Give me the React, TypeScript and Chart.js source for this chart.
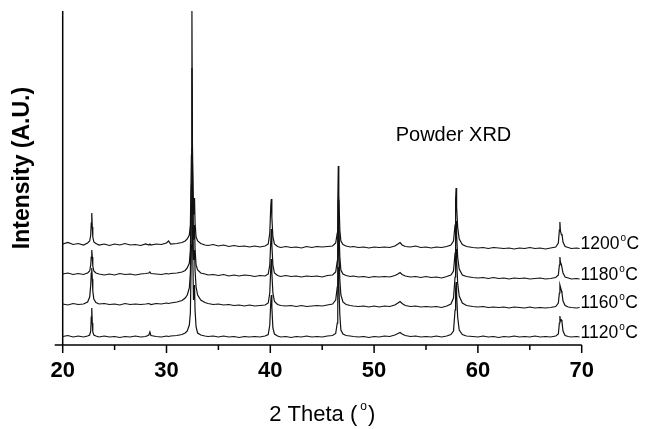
import React, { useEffect, useRef } from "react";
import { Chart, registerables } from "chart.js";

Chart.register(...registerables);

// 2-theta sampling positions (degrees)
const twoTheta = [
  20.0, 20.5, 21.0, 21.5, 22.0, 22.4, 22.6, 22.7, 22.75, 22.8,
  22.85, 22.9, 23.0, 23.2, 23.5, 24.0, 24.5, 25.0, 25.5, 26.0,
  26.5, 27.0, 27.5, 28.0, 28.3, 28.4, 28.5, 29.0, 29.5, 30.0,
  30.2, 30.4, 31.0, 31.5, 31.8, 32.0, 32.2, 32.3, 32.4, 32.45,
  32.5, 32.6, 32.7, 32.75, 32.85, 33.0, 33.3, 33.7, 34.0, 34.5,
  35.0, 35.5, 36.0, 36.5, 37.0, 37.5, 38.0, 38.5, 39.0, 39.5,
  39.8, 39.95, 40.05, 40.1, 40.15, 40.25, 40.4, 40.7, 41.0, 41.5,
  42.0, 42.5, 43.0, 43.5, 44.0, 44.5, 45.0, 45.5, 46.0, 46.3,
  46.45, 46.5, 46.55, 46.6, 46.7, 46.8, 47.0, 47.3, 47.7, 48.0,
  48.5, 49.0, 49.5, 50.0, 50.5, 51.0, 51.5, 52.0, 52.3, 52.5,
  52.7, 53.0, 53.5, 54.0, 54.5, 55.0, 55.5, 56.0, 56.5, 57.0,
  57.4, 57.65, 57.8, 57.85, 57.9, 57.95, 58.05, 58.2, 58.5, 58.9,
  59.5, 60.0, 60.5, 61.0, 61.5, 62.0, 62.5, 63.0, 63.5, 64.0,
  64.5, 65.0, 65.5, 66.0, 66.5, 67.0, 67.5, 67.75, 67.85, 67.9,
  67.95, 68.05, 68.1, 68.2, 68.4, 68.7, 69.0, 69.5, 69.8,
];

// Intensities (A.U., vertically offset for display)
const i1200 = [
  101, 102.5, 100.5, 101.5, 100, 102, 104, 110, 122, 132,
  118, 108, 103, 101.5, 100, 101, 99.5, 101, 100, 101.5,
  100, 100.5, 99.5, 101, 100, 101, 100, 101, 100.5, 102,
  104, 101, 101.5, 102.5, 104, 106, 110, 120, 190, 334,
  200, 130, 147, 122, 108, 104, 101.5, 100, 99.5, 100.5,
  99, 100, 98.5, 99.5, 98.5, 99, 98, 99, 98, 99,
  101, 112, 140, 146, 128, 108, 101, 98.5, 97.5, 98.5,
  97.5, 98, 97, 98.5, 97.5, 98.5, 98, 98.5, 99, 102,
  112, 140, 179, 150, 115, 104, 100.5, 99, 98, 98.5,
  97.5, 98, 97, 98, 97.5, 98, 97.5, 99, 101, 102.5,
  100, 98.5, 98, 99, 97.5, 98, 97, 98, 97.5, 98.5,
  100, 104, 120, 145, 157, 138, 118, 106, 100.5, 98.5,
  97.5, 97, 97.5, 96.5, 97.5, 97, 96.5, 97, 96, 97,
  96.5, 97.5, 96.5, 97, 96, 97, 98, 102, 115, 123,
  114, 110, 111, 103, 98.5, 97.5, 96.5, 97, 96.5,
];

const i1180 = [
  71, 72, 70.5, 71.5, 70.5, 72, 74, 80, 88, 95,
  88, 79, 74, 72, 71, 70, 71, 70, 71.5, 70.5,
  71, 70, 71, 71.5, 72, 73, 71.5, 71, 70.5, 71.5,
  71, 71.5, 72, 73, 74.5, 77, 82, 95, 160, 277,
  180, 105, 120, 96, 80, 75, 72, 71, 70, 70.5,
  69.5, 70.5, 69, 70, 69, 70, 69.5, 68.5, 69.5, 69,
  71, 80, 105, 116, 100, 80, 72, 69.5, 68.5, 69.5,
  68.5, 69, 68, 69, 68.5, 69, 68, 69.5, 70, 73,
  84, 110, 145, 120, 88, 75, 71, 69.5, 68.5, 69,
  68, 68.5, 67.5, 68.5, 68, 68.5, 68, 69.5, 71, 72.5,
  70.5, 69, 68, 68.5, 67.5, 68.5, 67.5, 68, 67, 68.5,
  70, 74, 92, 118, 124, 110, 88, 76, 70, 68.5,
  67.5, 67, 67.5, 66.5, 67.5, 66.5, 67, 66, 67, 66.5,
  67, 66, 66.5, 67, 66, 66.5, 67.5, 70, 80, 88,
  83, 80, 80, 72, 68, 67, 66, 66.5, 66,
];

const i1160 = [
  41, 40, 41.5, 40.5, 41, 43, 48, 60, 72, 77,
  66, 54, 46, 42.5, 41, 41.5, 40.5, 41, 40, 41.5,
  40.5, 41, 40.5, 41, 41.5, 41, 40.5, 41.5, 41, 42,
  41.5, 42, 43, 44.5, 47, 50, 57, 72, 140, 197,
  150, 85, 95, 75, 58, 50, 45, 42.5, 41.5, 40.5,
  41, 40, 40.5, 39.5, 40, 39, 40, 39, 39.5, 40,
  42, 52, 78, 86, 72, 52, 43.5, 40.5, 39.5, 39,
  39.5, 38.5, 39.5, 38.5, 39, 39.5, 39, 40, 41, 45,
  58, 85, 118, 98, 65, 50, 43, 40.5, 39.5, 39,
  38.5, 39, 38, 39, 38, 39, 38.5, 40, 42, 43.5,
  41.5, 39.5, 38.5, 39, 38, 38.5, 38, 38.5, 37.5, 39,
  41, 47, 68, 88, 96, 84, 62, 49, 42, 39.5,
  38.5, 38, 38.5, 37.5, 38, 37.5, 38, 37, 38, 37.5,
  37, 38, 37, 37.5, 37, 37.5, 38.5, 42, 52, 60,
  58, 54, 52, 44, 39.5, 38, 37.5, 37, 37.5,
];

const i1120 = [
  8.5, 9.5, 8, 9, 8, 9, 10, 14, 28, 37,
  22, 13, 10, 9, 8, 9, 8, 8.5, 7.5, 8.5,
  8, 9, 8, 8.5, 10, 13, 9.5, 8.5, 8, 9,
  8.5, 9, 9.5, 10.5, 12, 14, 20, 32, 100, 147,
  110, 45, 60, 35, 18, 12, 10, 9, 8.5, 9,
  8, 9, 8, 8.5, 7.5, 8.5, 8, 8.5, 8, 9,
  10.5, 20, 44, 50, 38, 17, 11, 9, 8, 8.5,
  7.5, 8.5, 8, 9, 8, 8.5, 8, 9, 9.5, 11.5,
  22, 50, 78, 60, 30, 15, 11, 9.5, 9, 8.5,
  8, 8.5, 7.5, 8.5, 8, 9, 8.5, 10, 11.5, 12.5,
  11, 9.5, 8.5, 9, 8, 8.5, 8, 9, 8, 9,
  10.5, 14, 35, 55, 63, 50, 28, 15, 10.5, 9,
  8.5, 8, 9, 8, 8.5, 7.5, 8.5, 8, 9, 8,
  8.5, 8, 9, 8, 8.5, 8, 9, 11, 22, 29,
  24, 25, 23, 14, 9.5, 8.5, 8, 8.5, 8,
];

const seriesNames = ["1200", "1180", "1160", "1120"];
const seriesValues = [i1200, i1180, i1160, i1120];

const xMajorTicks = [20, 30, 40, 50, 60, 70];
const xMinorTicks = [25, 35, 45, 55, 65];
const xMin = 20;
const xMax = 70;
const yMin = 0;
const yMax = 334;

const annotationText = "Powder XRD";
const annotationAt = { x: 57.65, y: 210 };
const xTitle = "2 Theta (";
const yTitle = "Intensity (A.U.)";

const FONT = '"Liberation Sans", Arial, Helvetica, sans-serif';

const decorPlugin = {
  id: "decor",
  afterDraw(chart: any) {
    const ctx: CanvasRenderingContext2D = chart.ctx;
    const xs = chart.scales.x;
    const ys = chart.scales.y;
    const area = chart.chartArea;
    ctx.save();
    ctx.strokeStyle = "#000";
    ctx.fillStyle = "#000";
    ctx.lineWidth = 1.5;

    const x0 = xs.getPixelForValue(xMin);
    const x1 = xs.getPixelForValue(xMax);
    const yb = area.bottom;

    // y axis line
    ctx.beginPath();
    ctx.moveTo(x0, area.top);
    ctx.lineTo(x0, yb);
    ctx.stroke();

    // x axis line (extends a little left of the y axis)
    ctx.beginPath();
    ctx.moveTo(x0 - 8, yb);
    ctx.lineTo(x1, yb);
    ctx.stroke();

    // ticks
    xMajorTicks.forEach((t) => {
      const p = xs.getPixelForValue(t);
      ctx.beginPath();
      ctx.moveTo(p, yb);
      ctx.lineTo(p, yb + 8);
      ctx.stroke();
    });
    xMinorTicks.forEach((t) => {
      const p = xs.getPixelForValue(t);
      ctx.beginPath();
      ctx.moveTo(p, yb);
      ctx.lineTo(p, yb + 5);
      ctx.stroke();
    });

    // series labels at the end of each curve
    chart.data.datasets.forEach((ds: any, i: number) => {
      const last = ds.data[ds.data.length - 1];
      const px = xs.getPixelForValue(last.x) + 1;
      const py = ys.getPixelForValue(last.y) - 4;
      ctx.textBaseline = "middle";
      ctx.textAlign = "left";
      ctx.font = `17.5px ${FONT}`;
      ctx.fillText(seriesNames[i], px, py);
      const w = ctx.measureText(seriesNames[i]).width;
      ctx.font = `10px ${FONT}`;
      ctx.fillText("o", px + w + 1, py - 6);
      const wo = ctx.measureText("o").width;
      ctx.font = `17.5px ${FONT}`;
      ctx.fillText("C", px + w + wo + 1.5, py);
    });

    // annotation
    ctx.font = `20px ${FONT}`;
    ctx.textAlign = "center";
    ctx.textBaseline = "middle";
    ctx.fillText(
      annotationText,
      xs.getPixelForValue(annotationAt.x),
      ys.getPixelForValue(annotationAt.y)
    );

    // x title: 2 Theta (°)
    ctx.textAlign = "left";
    ctx.textBaseline = "alphabetic";
    ctx.font = `22px ${FONT}`;
    const wT = ctx.measureText(xTitle).width;
    const wP = ctx.measureText(")").width;
    ctx.font = `12px ${FONT}`;
    const wO = ctx.measureText("o").width;
    const gap = 3;
    const total = wT + gap + wO + 1 + wP;
    const cx = (x0 + x1) / 2;
    const tx = cx - total / 2;
    const ty = 421;
    ctx.font = `22px ${FONT}`;
    ctx.fillText(xTitle, tx, ty);
    ctx.font = `12px ${FONT}`;
    ctx.fillText("o", tx + wT + gap, ty - 11);
    ctx.font = `22px ${FONT}`;
    ctx.fillText(")", tx + wT + gap + wO + 1, ty);

    // y title
    ctx.save();
    ctx.translate(29, 168);
    ctx.rotate(-Math.PI / 2);
    ctx.font = `bold 23px ${FONT}`;
    ctx.textAlign = "center";
    ctx.textBaseline = "alphabetic";
    ctx.fillText(yTitle, 0, 0);
    ctx.restore();

    ctx.restore();
  },
};

export default function App() {
  const ref = useRef<HTMLCanvasElement | null>(null);

  useEffect(() => {
    if (!ref.current) return;
    const datasets = seriesValues.map((vals, i) => ({
      label: seriesNames[i],
      data: twoTheta.map((x, k) => ({ x, y: vals[k] })),
      borderColor: "#111",
      borderWidth: 1.2,
      pointRadius: 0,
      tension: 0,
      fill: false,
    }));
    const chart = new Chart(ref.current, {
      type: "line",
      data: { datasets },
      options: {
        animation: false,
        responsive: false,
        devicePixelRatio: 1,
        layout: { padding: { left: 62.7, right: 64.3, top: 11, bottom: 0 } },
        plugins: {
          legend: { display: false },
          tooltip: { enabled: false },
        },
        scales: {
          x: {
            type: "linear",
            min: xMin,
            max: xMax,
            grid: { display: false, drawTicks: false },
            border: { display: false },
            afterFit: (scale: any) => {
              scale.height = 84;
            },
            afterBuildTicks: (scale: any) => {
              scale.ticks = xMajorTicks.map((v) => ({ value: v }));
            },
            ticks: {
              color: "#000",
              padding: 13,
              maxRotation: 0,
              autoSkip: false,
              font: { family: FONT, size: 22, weight: "bold" },
            },
          },
          y: {
            type: "linear",
            min: yMin,
            max: yMax,
            display: false,
          },
        },
      },
      plugins: [decorPlugin],
    });
    return () => chart.destroy();
  }, []);

  return (
    <div style={{ position: "absolute", left: 0, top: 0, width: 646, height: 429, background: "#fff" }}>
      <canvas ref={ref} width={646} height={429} style={{ display: "block" }} />
    </div>
  );
}
